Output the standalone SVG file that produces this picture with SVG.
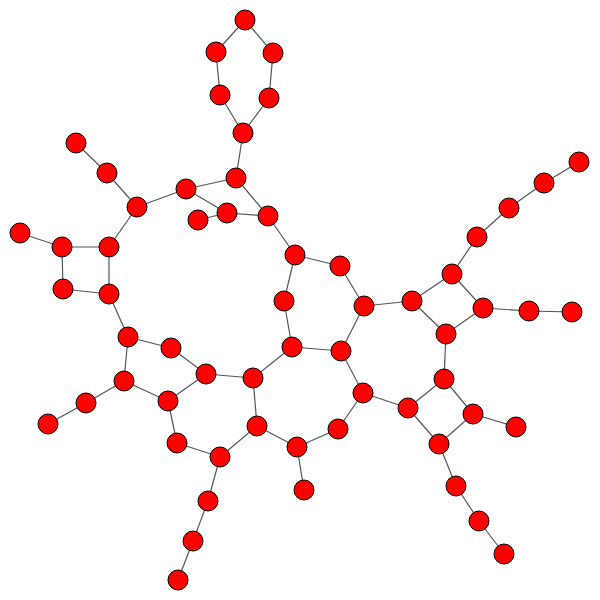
<svg xmlns="http://www.w3.org/2000/svg" width="600" height="600" viewBox="0 0 600 600">
<style>
.e line{stroke:#555;stroke-width:1.2}
.n circle{fill:#ff0000;stroke:#000;stroke-width:1;r:10}
</style>
<rect width="600" height="600" fill="#fff"/>
<g class="e" id="edges">
<line x1="245" y1="20" x2="216" y2="52"/>
<line x1="245" y1="20" x2="273" y2="53"/>
<line x1="216" y1="52" x2="220" y2="95"/>
<line x1="273" y1="53" x2="269" y2="98"/>
<line x1="220" y1="95" x2="243" y2="133"/>
<line x1="269" y1="98" x2="243" y2="133"/>
<line x1="243" y1="133" x2="236" y2="178"/>
<line x1="236" y1="178" x2="186" y2="189"/>
<line x1="236" y1="178" x2="268" y2="216"/>
<line x1="186" y1="189" x2="227" y2="213"/>
<line x1="186" y1="189" x2="137" y2="207"/>
<line x1="227" y1="213" x2="198" y2="220"/>
<line x1="227" y1="213" x2="268" y2="216"/>
<line x1="76" y1="143" x2="107" y2="173"/>
<line x1="107" y1="173" x2="137" y2="207"/>
<line x1="137" y1="207" x2="109" y2="247"/>
<line x1="20" y1="233" x2="62" y2="247"/>
<line x1="62" y1="247" x2="109" y2="247"/>
<line x1="62" y1="247" x2="63" y2="289"/>
<line x1="109" y1="247" x2="109" y2="294"/>
<line x1="63" y1="289" x2="109" y2="294"/>
<line x1="268" y1="216" x2="295" y2="255"/>
<line x1="295" y1="255" x2="284" y2="301"/>
<line x1="284" y1="301" x2="292" y2="347"/>
<line x1="295" y1="255" x2="340" y2="266"/>
<line x1="340" y1="266" x2="364" y2="306"/>
<line x1="364" y1="306" x2="412" y2="301"/>
<line x1="412" y1="301" x2="452" y2="274"/>
<line x1="452" y1="274" x2="477" y2="237"/>
<line x1="477" y1="237" x2="509" y2="208"/>
<line x1="509" y1="208" x2="544" y2="183"/>
<line x1="544" y1="183" x2="579" y2="162"/>
<line x1="452" y1="274" x2="483" y2="308"/>
<line x1="483" y1="308" x2="446" y2="334"/>
<line x1="412" y1="301" x2="446" y2="334"/>
<line x1="483" y1="308" x2="529" y2="311"/>
<line x1="529" y1="311" x2="572" y2="312"/>
<line x1="446" y1="334" x2="444" y2="379"/>
<line x1="444" y1="379" x2="473" y2="414"/>
<line x1="444" y1="379" x2="408" y2="408"/>
<line x1="473" y1="414" x2="439" y2="444"/>
<line x1="408" y1="408" x2="439" y2="444"/>
<line x1="473" y1="414" x2="516" y2="427"/>
<line x1="439" y1="444" x2="456" y2="486"/>
<line x1="456" y1="486" x2="479" y2="521"/>
<line x1="479" y1="521" x2="504" y2="554"/>
<line x1="364" y1="306" x2="341" y2="351"/>
<line x1="341" y1="351" x2="292" y2="347"/>
<line x1="341" y1="351" x2="363" y2="393"/>
<line x1="363" y1="393" x2="408" y2="408"/>
<line x1="363" y1="393" x2="338" y2="429"/>
<line x1="338" y1="429" x2="297" y2="447"/>
<line x1="297" y1="447" x2="304" y2="490"/>
<line x1="297" y1="447" x2="257" y2="426"/>
<line x1="292" y1="347" x2="253" y2="378"/>
<line x1="253" y1="378" x2="206" y2="374"/>
<line x1="253" y1="378" x2="257" y2="426"/>
<line x1="257" y1="426" x2="220" y2="457"/>
<line x1="220" y1="457" x2="177" y2="443"/>
<line x1="177" y1="443" x2="168" y2="401"/>
<line x1="168" y1="401" x2="206" y2="374"/>
<line x1="168" y1="401" x2="124" y2="381"/>
<line x1="206" y1="374" x2="171" y2="348"/>
<line x1="171" y1="348" x2="128" y2="337"/>
<line x1="128" y1="337" x2="109" y2="294"/>
<line x1="128" y1="337" x2="124" y2="381"/>
<line x1="124" y1="381" x2="86" y2="403"/>
<line x1="86" y1="403" x2="48" y2="424"/>
<line x1="220" y1="457" x2="208" y2="501"/>
<line x1="208" y1="501" x2="193" y2="541"/>
<line x1="193" y1="541" x2="178" y2="580"/>
</g>
<g class="n">
<g id="n1"><circle cx="245" cy="20" r="10"/></g>
<g id="n2"><circle cx="216" cy="52" r="10"/></g>
<g id="n3"><circle cx="273" cy="53" r="10"/></g>
<g id="n4"><circle cx="220" cy="95" r="10"/></g>
<g id="n5"><circle cx="269" cy="98" r="10"/></g>
<g id="n6"><circle cx="243" cy="133" r="10"/></g>
<g id="n7"><circle cx="236" cy="178" r="10"/></g>
<g id="n8"><circle cx="186" cy="189" r="10"/></g>
<g id="n9"><circle cx="227" cy="213" r="10"/></g>
<g id="n10"><circle cx="198" cy="220" r="10"/></g>
<g id="n11"><circle cx="268" cy="216" r="10"/></g>
<g id="n12"><circle cx="76" cy="143" r="10"/></g>
<g id="n13"><circle cx="107" cy="173" r="10"/></g>
<g id="n14"><circle cx="137" cy="207" r="10"/></g>
<g id="n15"><circle cx="20" cy="233" r="10"/></g>
<g id="n16"><circle cx="62" cy="247" r="10"/></g>
<g id="n17"><circle cx="109" cy="247" r="10"/></g>
<g id="n18"><circle cx="63" cy="289" r="10"/></g>
<g id="n19"><circle cx="109" cy="294" r="10"/></g>
<g id="n20"><circle cx="295" cy="255" r="10"/></g>
<g id="n21"><circle cx="284" cy="301" r="10"/></g>
<g id="n22"><circle cx="340" cy="266" r="10"/></g>
<g id="n23"><circle cx="364" cy="306" r="10"/></g>
<g id="n24"><circle cx="412" cy="301" r="10"/></g>
<g id="n25"><circle cx="452" cy="274" r="10"/></g>
<g id="n26"><circle cx="477" cy="237" r="10"/></g>
<g id="n27"><circle cx="509" cy="208" r="10"/></g>
<g id="n28"><circle cx="544" cy="183" r="10"/></g>
<g id="n29"><circle cx="579" cy="162" r="10"/></g>
<g id="n30"><circle cx="483" cy="308" r="10"/></g>
<g id="n31"><circle cx="529" cy="311" r="10"/></g>
<g id="n32"><circle cx="572" cy="312" r="10"/></g>
<g id="n33"><circle cx="446" cy="334" r="10"/></g>
<g id="n34"><circle cx="444" cy="379" r="10"/></g>
<g id="n35"><circle cx="473" cy="414" r="10"/></g>
<g id="n36"><circle cx="516" cy="427" r="10"/></g>
<g id="n37"><circle cx="439" cy="444" r="10"/></g>
<g id="n38"><circle cx="408" cy="408" r="10"/></g>
<g id="n39"><circle cx="363" cy="393" r="10"/></g>
<g id="n40"><circle cx="341" cy="351" r="10"/></g>
<g id="n41"><circle cx="292" cy="347" r="10"/></g>
<g id="n42"><circle cx="338" cy="429" r="10"/></g>
<g id="n43"><circle cx="297" cy="447" r="10"/></g>
<g id="n44"><circle cx="304" cy="490" r="10"/></g>
<g id="n45"><circle cx="456" cy="486" r="10"/></g>
<g id="n46"><circle cx="479" cy="521" r="10"/></g>
<g id="n47"><circle cx="504" cy="554" r="10"/></g>
<g id="n48"><circle cx="128" cy="337" r="10"/></g>
<g id="n49"><circle cx="171" cy="348" r="10"/></g>
<g id="n50"><circle cx="206" cy="374" r="10"/></g>
<g id="n51"><circle cx="253" cy="378" r="10"/></g>
<g id="n52"><circle cx="124" cy="381" r="10"/></g>
<g id="n53"><circle cx="86" cy="403" r="10"/></g>
<g id="n54"><circle cx="48" cy="424" r="10"/></g>
<g id="n55"><circle cx="168" cy="401" r="10"/></g>
<g id="n56"><circle cx="177" cy="443" r="10"/></g>
<g id="n57"><circle cx="220" cy="457" r="10"/></g>
<g id="n58"><circle cx="257" cy="426" r="10"/></g>
<g id="n59"><circle cx="208" cy="501" r="10"/></g>
<g id="n60"><circle cx="193" cy="541" r="10"/></g>
<g id="n61"><circle cx="178" cy="580" r="10"/></g>
</g>
</svg>
